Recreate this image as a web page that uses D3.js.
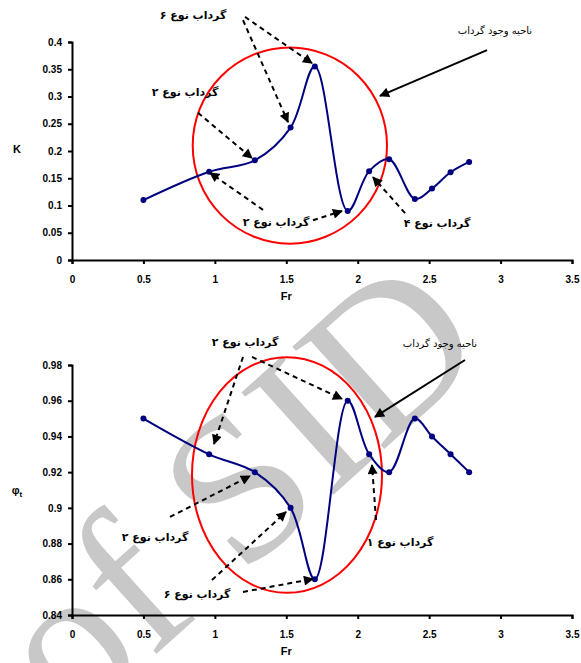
<!DOCTYPE html>
<html>
<head>
<meta charset="utf-8">
<script src="https://cdn.jsdelivr.net/npm/d3@7"></script>
<style>
  body { margin: 0; background: #fff; }
  svg { display: block; }
</style>
</head>
<body>
<div id="chart"></div>
<script>
// shared Froude numbers for both panels
const frValues = [0.5, 0.96, 1.28, 1.53, 1.70, 1.93, 2.08, 2.22, 2.40, 2.52, 2.65, 2.78];
const kValues = [0.11, 0.162, 0.183, 0.243, 0.355, 0.09, 0.163, 0.185, 0.112, 0.131, 0.161, 0.18];
const phiValues = [0.95, 0.93, 0.92, 0.90, 0.86, 0.96, 0.93, 0.92, 0.95, 0.94, 0.93, 0.92];

const xTicks = [0, 0.5, 1, 1.5, 2, 2.5, 3, 3.5];
const xTickLabels = ['0', '0.5', '1', '1.5', '2', '2.5', '3', '3.5'];
const kTicks = [0, 0.05, 0.1, 0.15, 0.2, 0.25, 0.3, 0.35, 0.4];
const kTickLabels = ['0', '0.05', '0.1', '0.15', '0.2', '0.25', '0.3', '0.35', '0.4'];
const phiTicks = [0.84, 0.86, 0.88, 0.9, 0.92, 0.94, 0.96, 0.98];
const phiTickLabels = ['0.84', '0.86', '0.88', '0.9', '0.92', '0.94', '0.96', '0.98'];

// annotations, in data units: [fromX, fromY, toX, toY, dashed]
const kArrows = [
  [1.211, 0.446, 1.68, 0.361, true],
  [1.197, 0.440, 1.512, 0.253, true],
  [0.882, 0.270, 1.26, 0.187, true],
  [1.337, 0.092, 0.966, 0.160, true],
  [1.687, 0.073, 1.89, 0.090, true],
  [2.331, 0.086, 2.107, 0.152, true],
  [2.905, 0.385, 2.156, 0.301, false]
];
// [x, y, text, bold]
const kLabels = [
  [0.847, 0.450, 'گرداب نوع ۶', true],
  [0.791, 0.308, 'گرداب نوع ۲', true],
  [1.428, 0.070, 'گرداب نوع ۲', true],
  [2.555, 0.068, 'گرداب نوع ۴', true],
  [2.961, 0.422, 'ناحیه وجود گرداب', false]
];
const phiArrows = [
  [1.197, 0.9845, 0.994, 0.9358, true],
  [1.26, 0.9845, 1.89, 0.961, true],
  [2.751, 0.9828, 2.121, 0.9509, false],
  [2.128, 0.8932, 2.10, 0.924, true],
  [0.686, 0.8949, 1.246, 0.9178, true],
  [0.98, 0.8596, 1.498, 0.8977, true],
  [1.197, 0.8529, 1.687, 0.8602, true]
];
const phiLabels = [
  [1.211, 0.9929, 'گرداب نوع ۲', true],
  [2.576, 0.9923, 'ناحیه وجود گرداب', false],
  [2.296, 0.8809, 'گرداب نوع ۱', true],
  [0.581, 0.8837, 'گرداب نوع ۲', true],
  [0.875, 0.8518, 'گرداب نوع ۶', true]
];
// red ellipses: [cx, cy, rx, ry] in data units
const kRing = [1.525, 0.21, 0.68, 0.18];
const phiRing = [1.505, 0.9184, 0.665, 0.066];

const width = 581;
const height = 663;

const svg = d3.select('#chart')
  .append('svg')
  .attr('width', width)
  .attr('height', height);

// watermark behind everything
svg.append('text')
  .attr('transform', 'translate(72,730) rotate(-42)')
  .style('font-family', '"Liberation Serif", serif')
  .style('font-size', '210px')
  .style('fill', '#c8c8c8')
  .text('of SID');

const defs = svg.append('defs');
defs.append('marker')
  .attr('id', 'head')
  .attr('markerUnits', 'userSpaceOnUse')
  .attr('viewBox', '0 0 10 10')
  .attr('refX', 9)
  .attr('refY', 5)
  .attr('markerWidth', 11)
  .attr('markerHeight', 10)
  .attr('orient', 'auto')
  .append('path')
  .attr('d', 'M0,0 L10,5 L0,10 Z')
  .style('fill', '#000');

function drawPanel(opts) {
  const x = d3.scaleLinear().domain([0, 3.5]).range([72, 572]);
  const y = d3.scaleLinear().domain(opts.yDomain).range([opts.bottom, opts.top]);
  const g = svg.append('g');

  // axes
  const xAxis = d3.axisBottom(x)
    .tickValues(xTicks)
    .tickSize(4)
    .tickFormat((d, i) => xTickLabels[i]);
  const yAxis = d3.axisLeft(y)
    .tickValues(opts.yTicks)
    .tickSize(4)
    .tickFormat((d, i) => opts.yLabels[i]);

  const gx = g.append('g')
    .attr('transform', `translate(0,${opts.bottom})`)
    .call(xAxis);
  const gy = g.append('g')
    .attr('transform', 'translate(72,0)')
    .call(yAxis);

  [gx, gy].forEach((ax) => {
    ax.select('.domain').style('stroke', '#000').style('stroke-width', 2);
    ax.selectAll('.tick line').style('stroke', '#000').style('stroke-width', 2);
    ax.selectAll('.tick text')
      .style('font-family', '"Liberation Sans", Arial, sans-serif')
      .style('font-weight', 'bold')
      .style('font-size', '10px')
      .style('fill', '#000');
  });
  gx.selectAll('.tick text').attr('dy', '1.6em');
  gy.selectAll('.tick text').attr('x', -10);

  // axis titles
  g.append('text')
    .attr('x', x(1.5))
    .attr('y', opts.bottom + 40)
    .attr('text-anchor', 'middle')
    .style('font-family', '"Liberation Sans", Arial, sans-serif')
    .style('font-weight', 'bold')
    .style('font-size', '11px')
    .text('Fr');

  const yt = g.append('text')
    .attr('x', 17)
    .attr('y', opts.titleY)
    .attr('text-anchor', 'middle')
    .style('font-family', '"Liberation Sans", Arial, sans-serif')
    .style('font-weight', 'bold')
    .style('font-size', '11px');
  yt.append('tspan').text(opts.yTitle);
  if (opts.yTitleSub) {
    yt.append('tspan').attr('dy', 3).style('font-size', '8px').text(opts.yTitleSub);
  }

  // red ring
  const ring = opts.ring;
  g.append('ellipse')
    .attr('cx', x(ring[0]))
    .attr('cy', y(ring[1]))
    .attr('rx', x(ring[2]) - x(0))
    .attr('ry', y(opts.yDomain[0]) - y(opts.yDomain[0] + ring[3]))
    .style('fill', 'none')
    .style('stroke', '#ff0000')
    .style('stroke-width', 2);

  // data line
  const pts = frValues.map((d, i) => [d, opts.values[i]]);
  const line = d3.line()
    .x((d) => x(d[0]))
    .y((d) => y(d[1]))
    .curve(d3.curveCatmullRom.alpha(0.5));

  g.append('path')
    .datum(pts)
    .attr('d', line)
    .style('fill', 'none')
    .style('stroke', '#000080')
    .style('stroke-width', 2);

  g.selectAll('circle.pt')
    .data(pts)
    .enter()
    .append('circle')
    .attr('class', 'pt')
    .attr('cx', (d) => x(d[0]))
    .attr('cy', (d) => y(d[1]))
    .attr('r', 3)
    .style('fill', '#000080');

  // arrows
  g.selectAll('line.arrow')
    .data(opts.arrows)
    .enter()
    .append('line')
    .attr('class', 'arrow')
    .attr('x1', (d) => x(d[0]))
    .attr('y1', (d) => y(d[1]))
    .attr('x2', (d) => x(d[2]))
    .attr('y2', (d) => y(d[3]))
    .attr('marker-end', 'url(#head)')
    .style('stroke', '#000')
    .style('stroke-width', 2)
    .style('stroke-dasharray', (d) => (d[4] ? '5,4' : null));

  // persian labels
  g.selectAll('text.note')
    .data(opts.labels)
    .enter()
    .append('text')
    .attr('class', 'note')
    .attr('x', (d) => x(d[0]))
    .attr('y', (d) => y(d[1]))
    .attr('dy', '0.35em')
    .attr('text-anchor', 'middle')
    .attr('direction', 'rtl')
    .style('font-family', '"DejaVu Sans", sans-serif')
    .style('font-weight', (d) => (d[3] ? 'bold' : 'normal'))
    .style('font-size', (d) => (d[3] ? '11px' : '10px'))
    .style('fill', '#000')
    .text((d) => d[2]);
}

drawPanel({
  top: 42,
  bottom: 260,
  yDomain: [0, 0.4],
  yTicks: kTicks,
  yLabels: kTickLabels,
  values: kValues,
  yTitle: 'K',
  titleY: 153,
  ring: kRing,
  arrows: kArrows,
  labels: kLabels
});

drawPanel({
  top: 365,
  bottom: 615,
  yDomain: [0.84, 0.98],
  yTicks: phiTicks,
  yLabels: phiTickLabels,
  values: phiValues,
  yTitle: 'φ',
  yTitleSub: 't',
  titleY: 494,
  ring: phiRing,
  arrows: phiArrows,
  labels: phiLabels
});
</script>
</body>
</html>
